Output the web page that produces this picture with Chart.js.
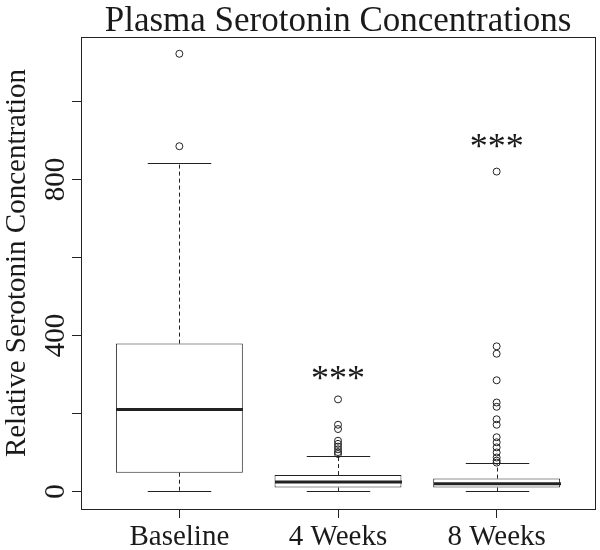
<!DOCTYPE html>
<html>
<head>
<meta charset="utf-8">
<script src="https://cdn.jsdelivr.net/npm/chart.js@4.4.0/dist/chart.umd.min.js"></script>
<style>
  html, body { margin: 0; padding: 0; background: #fff; }
  #wrap { width: 600px; height: 550px; }
</style>
</head>
<body>
<div id="wrap"><canvas id="chart" width="600" height="550"></canvas></div>
<script>
// ==============================
//  DATA
// ==============================
const CATEGORIES   = ['Baseline', '4 Weeks', '8 Weeks'];
const WHISKER_LOW  = [0, 0, 0];
const Q1           = [48, 10, 10];
const MEDIAN       = [210, 24, 20];
const Q3           = [379, 42, 33];
const WHISKER_HIGH = [841, 91, 72];
const OUTLIERS = [
  [885, 1122],
  [236, 171, 160, 130, 122, 115, 108, 101, 96],
  [820, 372, 353, 285, 228, 217, 185, 171, 139, 126, 113, 100, 87, 79, 74],
];
const SIG_LABELS = ['', '***', '***'];
const SIG_Y      = [null, 303, 899];
const Y_TICKS          = [0, 200, 400, 600, 800, 1000];
const Y_TICKS_LABELLED = [0, 400, 800];

const TITLE   = 'Plasma Serotonin Concentrations';
const Y_TITLE = 'Relative Serotonin Concentration';

const SERIF = "'Liberation Serif', 'Times New Roman', serif";
const INK   = '#222';

// ==============================
//  PLUGINS
// ==============================
function line(ctx, x1, y1, x2, y2) {
  ctx.beginPath();
  ctx.moveTo(x1, y1);
  ctx.lineTo(x2, y2);
  ctx.stroke();
}

// whiskers, caps and medians on top of the floating bars
const boxPlotPlugin = {
  id: 'boxPlot',
  afterDatasetsDraw(chart) {
    const { ctx } = chart;
    const xs = chart.scales.x, ys = chart.scales.y;
    const unit = xs.getPixelForValue(2) - xs.getPixelForValue(1);
    const halfBox = unit * 0.4, halfCap = unit * 0.2;
    ctx.save();
    ctx.strokeStyle = INK;
    CATEGORIES.forEach((_, i) => {
      const cx = Math.round(xs.getPixelForValue(i + 1)) + 0.5;
      const yLo = Math.round(ys.getPixelForValue(WHISKER_LOW[i])) + 0.5;
      const yHi = Math.round(ys.getPixelForValue(WHISKER_HIGH[i])) + 0.5;
      const yQ1 = ys.getPixelForValue(Q1[i]);
      const yQ3 = ys.getPixelForValue(Q3[i]);
      const yMed = ys.getPixelForValue(MEDIAN[i]);

      ctx.lineWidth = 1;
      ctx.setLineDash([4, 3]);
      line(ctx, cx, yQ3, cx, yHi);
      line(ctx, cx, yQ1, cx, yLo);
      ctx.setLineDash([]);
      line(ctx, cx - halfCap, yHi, cx + halfCap, yHi);
      line(ctx, cx - halfCap, yLo, cx + halfCap, yLo);

      ctx.lineWidth = 3;
      line(ctx, cx - halfBox, yMed, cx + halfBox, yMed);
    });
    ctx.restore();
  }
};

// plot frame, titles and significance stars
const decorPlugin = {
  id: 'decor',
  afterDraw(chart) {
    const { ctx, chartArea: a } = chart;
    const xs = chart.scales.x, ys = chart.scales.y;
    ctx.save();
    ctx.strokeStyle = INK;
    ctx.lineWidth = 1;
    ctx.strokeRect(Math.round(a.left) + 0.5, Math.round(a.top) + 0.5,
                   Math.round(a.width), Math.round(a.height));

    ctx.fillStyle = '#1a1a1a';
    ctx.textAlign = 'center';
    ctx.textBaseline = 'alphabetic';
    ctx.font = `35px ${SERIF}`;
    ctx.fillText(TITLE, (a.left + a.right) / 2, 31);

    // y axis title, rotated
    ctx.save();
    ctx.translate(17, 263);
    ctx.rotate(-Math.PI / 2);
    ctx.textBaseline = 'middle';
    ctx.font = `29px ${SERIF}`;
    ctx.fillText(Y_TITLE, 0, 0);
    ctx.restore();

    ctx.font = `36px ${SERIF}`;
    SIG_LABELS.forEach((s, i) => {
      if (!s) return;
      const m = ctx.measureText(s);
      const yc = ys.getPixelForValue(SIG_Y[i]);
      const base = yc + (m.actualBoundingBoxAscent - m.actualBoundingBoxDescent) / 2;
      ctx.fillText(s, xs.getPixelForValue(i + 1), base);
    });
    ctx.restore();
  }
};

// ==============================
//  CHART
// ==============================
const boxData = CATEGORIES.map((_, i) => ({ x: i + 1, y: [Q1[i], Q3[i]] }));
const outlierData = OUTLIERS.flatMap((vals, i) => vals.map(v => ({ x: i + 1, y: v })));

new Chart(document.getElementById('chart'), {
  type: 'bar',
  data: {
    datasets: [
      {
        type: 'bar',
        data: boxData,
        backgroundColor: '#fff',
        borderColor: INK,
        borderWidth: 1,
        borderSkipped: false,
        barPercentage: 0.8,
        categoryPercentage: 1.0,
      },
      {
        type: 'scatter',
        data: outlierData,
        pointStyle: 'circle',
        pointRadius: 3.5,
        pointBackgroundColor: 'rgba(0,0,0,0)',
        pointBorderColor: INK,
        pointBorderWidth: 1,
        showLine: false,
      }
    ]
  },
  options: {
    responsive: false,
    animation: false,
    layout: { padding: { top: 37, right: 3, left: 0, bottom: 0 } },
    plugins: { legend: { display: false }, tooltip: { enabled: false } },
    scales: {
      x: {
        type: 'linear',
        min: 0.38,
        max: 3.62,
        offset: false,
        border: { display: false },
        grid: { offset: false, drawOnChartArea: false, tickLength: 9, color: INK },
        afterBuildTicks: s => { s.ticks = CATEGORIES.map((_, i) => ({ value: i + 1 })); },
        ticks: {
          autoSkip: false,
          maxRotation: 0,
          padding: 2,
          color: '#1a1a1a',
          font: { family: SERIF, size: 29 },
          callback: v => CATEGORIES[v - 1] ?? '',
        },
        afterFit: s => { s.height = 41; },
      },
      y: {
        min: -45,
        max: 1165,
        border: { display: false },
        grid: { drawOnChartArea: false, tickLength: 9, color: INK },
        afterBuildTicks: s => { s.ticks = Y_TICKS.map(v => ({ value: v })); },
        ticks: {
          autoSkip: false,
          minRotation: 90,
          maxRotation: 90,
          crossAlign: 'center',
          padding: -6,
          color: '#1a1a1a',
          font: { family: SERIF, size: 29 },
          callback: v => Y_TICKS_LABELLED.includes(v) ? String(v) : '',
        },
        afterFit: s => { s.width = 81; },
      }
    }
  },
  plugins: [boxPlotPlugin, decorPlugin]
});
</script>
</body>
</html>
